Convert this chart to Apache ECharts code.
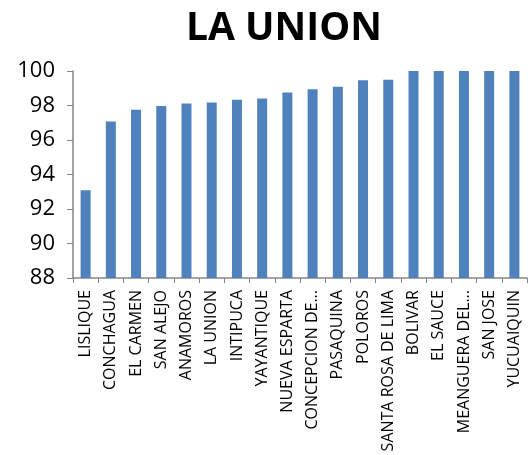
<!DOCTYPE html>
<html>
<head>
<meta charset="utf-8">
<script src="https://cdn.jsdelivr.net/npm/echarts@6/dist/echarts.min.js"></script>
<style>
  html, body { margin: 0; padding: 0; background: #fff; }
  #chart { width: 528px; height: 455px; }
</style>
</head>
<body>
<div id="chart"></div>
<script>
// municipios del departamento
var municipios = ["LISLIQUE", "CONCHAGUA", "EL CARMEN", "SAN ALEJO", "ANAMOROS", "LA UNION",
  "INTIPUCA", "YAYANTIQUE", "NUEVA ESPARTA", "CONCEPCION DE...", "PASAQUINA", "POLOROS",
  "SANTA ROSA DE LIMA", "BOLIVAR", "EL SAUCE", "MEANGUERA DEL...", "SAN JOSE", "YUCUAIQUIN"];
var valores = [93.08, 97.07, 97.76, 97.97, 98.11, 98.17, 98.34, 98.40, 98.75, 98.94,
  99.09, 99.46, 99.50, 100, 100, 100, 100, 100];
var yTicks = [88, 90, 92, 94, 96, 98, 100];

var chart = echarts.init(document.getElementById("chart"));
chart.setOption({
  animation: false,
  title: {
    text: "LA UNION",
    left: 279,
    top: 4,
    textAlign: "center",
    textStyle: { fontFamily: "Open Sans", fontWeight: "bold", fontSize: 39, color: "#000" }
  },
  grid: { left: 73, right: 1, top: 71, bottom: 177, containLabel: false },
  xAxis: {
    type: "category",
    data: municipios,
    axisLine: { lineStyle: { color: "#868686", width: 1.5 } },
    axisTick: { show: true, length: 5, lineStyle: { color: "#868686" } },
    axisLabel: {
      rotate: 90,
      interval: 0,
      margin: 12,
      fontFamily: "Open Sans",
      fontSize: 16,
      color: "#000"
    }
  },
  yAxis: {
    type: "value",
    min: yTicks[0],
    max: yTicks[yTicks.length - 1],
    interval: 2,
    splitLine: { show: false },
    axisLine: { show: true, lineStyle: { color: "#868686", width: 1.5 } },
    axisTick: { show: true, length: 6, lineStyle: { color: "#868686" } },
    axisLabel: { fontFamily: "Open Sans", fontSize: 22, color: "#000", margin: 18 }
  },
  series: [{
    type: "bar",
    data: valores,
    barWidth: 10,
    itemStyle: { color: "#4f81bd" }
  }]
});
</script>
</body>
</html>
